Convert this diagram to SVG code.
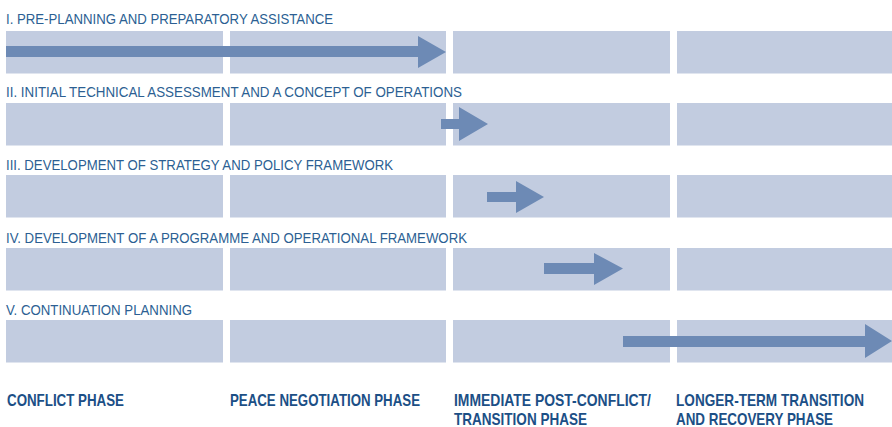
<svg xmlns="http://www.w3.org/2000/svg" width="892" height="427" viewBox="0 0 892 427">
<style>
.cell{fill:#c2cce0}
.arr{fill:#6d8ab5}
.ttl{font-family:"Liberation Sans",Arial,sans-serif;font-size:15.5px;fill:#2c5f93}
.ph{font-family:"Liberation Sans",Arial,sans-serif;font-size:16.5px;font-weight:bold;fill:#1c4f86}
</style>
<rect width="892" height="427" fill="#ffffff"/>
<g id="row1">
<text class="ttl" x="6" y="24" textLength="327" lengthAdjust="spacingAndGlyphs">I. PRE-PLANNING AND PREPARATORY ASSISTANCE</text>
<rect class="cell" x="6" y="31" width="217" height="42.5"/>
<rect class="cell" x="230" y="31" width="216" height="42.5"/>
<rect class="cell" x="453" y="31" width="217" height="42.5"/>
<rect class="cell" x="677" y="31" width="215" height="42.5"/>
</g>
<g id="row2">
<text class="ttl" x="6" y="97" textLength="456" lengthAdjust="spacingAndGlyphs">II. INITIAL TECHNICAL ASSESSMENT AND A CONCEPT OF OPERATIONS</text>
<rect class="cell" x="6" y="103" width="217" height="42.5"/>
<rect class="cell" x="230" y="103" width="216" height="42.5"/>
<rect class="cell" x="453" y="103" width="217" height="42.5"/>
<rect class="cell" x="677" y="103" width="215" height="42.5"/>
</g>
<g id="row3">
<text class="ttl" x="6" y="170" textLength="387" lengthAdjust="spacingAndGlyphs">III. DEVELOPMENT OF STRATEGY AND POLICY FRAMEWORK</text>
<rect class="cell" x="6" y="175" width="217" height="42.5"/>
<rect class="cell" x="230" y="175" width="216" height="42.5"/>
<rect class="cell" x="453" y="175" width="217" height="42.5"/>
<rect class="cell" x="677" y="175" width="215" height="42.5"/>
</g>
<g id="row4">
<text class="ttl" x="6" y="243" textLength="461" lengthAdjust="spacingAndGlyphs">IV. DEVELOPMENT OF A PROGRAMME AND OPERATIONAL FRAMEWORK</text>
<rect class="cell" x="6" y="248" width="217" height="42.5"/>
<rect class="cell" x="230" y="248" width="216" height="42.5"/>
<rect class="cell" x="453" y="248" width="217" height="42.5"/>
<rect class="cell" x="677" y="248" width="215" height="42.5"/>
</g>
<g id="row5">
<text class="ttl" x="6" y="315" textLength="186" lengthAdjust="spacingAndGlyphs">V. CONTINUATION PLANNING</text>
<rect class="cell" x="6" y="320" width="217" height="42.5"/>
<rect class="cell" x="230" y="320" width="216" height="42.5"/>
<rect class="cell" x="453" y="320" width="217" height="42.5"/>
<rect class="cell" x="677" y="320" width="215" height="42.5"/>
</g>
<g id="connectors">
<polygon class="arr" points="6,46 418,46 418,36 446,52 418,68 418,57 6,57"/>
<polygon class="arr" points="441,119 459,119 459,107 488,124 459,141 459,129 441,129"/>
<polygon class="arr" points="487,192 516,192 516,181 544,197 516,213 516,202 487,202"/>
<polygon class="arr" points="544,263 594,263 594,253 623,268.5 594,285 594,274 544,274"/>
<polygon class="arr" points="623,336 865,336 865,324 892,341 865,358 865,347 623,347"/>
</g>
<g id="phases">
<text class="ph" transform="translate(7 406) scale(0.82 1)" textLength="142.7" lengthAdjust="spacingAndGlyphs">CONFLICT PHASE</text>
<text class="ph" transform="translate(230 406) scale(0.82 1)" textLength="231.7" lengthAdjust="spacingAndGlyphs">PEACE NEGOTIATION PHASE</text>
<text class="ph" transform="translate(454 406) scale(0.82 1)" textLength="240.2" lengthAdjust="spacingAndGlyphs">IMMEDIATE POST-CONFLICT/</text>
<text class="ph" transform="translate(454 425) scale(0.82 1)" textLength="162.2" lengthAdjust="spacingAndGlyphs">TRANSITION PHASE</text>
<text class="ph" transform="translate(676 406) scale(0.82 1)" textLength="229.3" lengthAdjust="spacingAndGlyphs">LONGER-TERM TRANSITION</text>
<text class="ph" transform="translate(676 425) scale(0.82 1)" textLength="191.5" lengthAdjust="spacingAndGlyphs">AND RECOVERY PHASE</text>
</g>
</svg>
